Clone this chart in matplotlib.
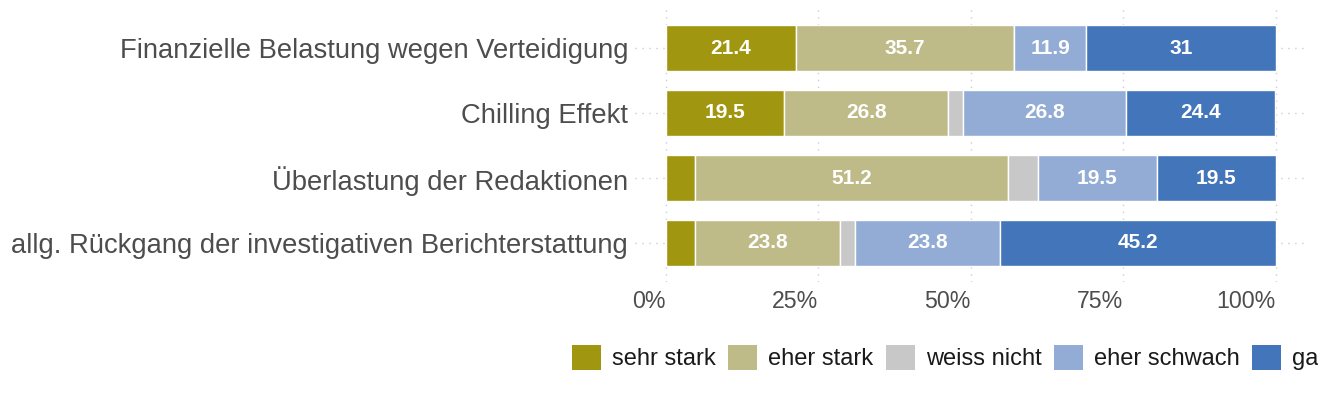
import matplotlib
matplotlib.use("Agg")
import matplotlib.pyplot as plt
from matplotlib.patches import Patch
import numpy as np

plt.rcParams['font.family'] = ['Liberation Sans', 'DejaVu Sans']

categories = [
    "Finanzielle Belastung wegen Verteidigung",
    "Chilling Effekt",
    "Überlastung der Redaktionen",
    "allg. Rückgang der investigativen Berichterstattung",
]
series_names = ["sehr stark", "eher stark", "weiss nicht", "eher schwach", "gar nicht"]
sehr_stark = [21.4, 19.5, 4.9, 4.8]
eher_stark = [35.7, 26.8, 51.2, 23.8]
weiss_nicht = [0.0, 2.4, 4.9, 2.4]
eher_schwach = [11.9, 26.8, 19.5, 23.8]
gar_nicht = [31.0, 24.4, 19.5, 45.2]
series_values = [sehr_stark, eher_stark, weiss_nicht, eher_schwach, gar_nicht]
colors = ["#A1960F", "#BFBB88", "#C8C8C8", "#93ACD5", "#4375BA"]
xticks = [0, 25, 50, 75, 100]
xtick_labels = ["0%", "25%", "50%", "75%", "100%"]

W, H = 1318, 396
fig = plt.figure(figsize=(W / 100, H / 100), dpi=100)
left, right, top, bottom = 635, 1306, 9, 282
ax = fig.add_axes([left / W, 1 - bottom / H, (right - left) / W, (bottom - top) / H])

y = np.arange(len(categories))
grid_kw = dict(color="#CFCBD6", linestyle=(0, (1, 4)), linewidth=1.0, zorder=0)
for xv in xticks:
    ax.axvline(xv, **grid_kw)
for yv in y:
    ax.axhline(yv, **grid_kw)

lefts = np.zeros(len(categories))
for name, vals, col in zip(series_names, series_values, colors):
    vals = np.array(vals)
    ax.barh(y, vals, left=lefts, height=0.71, color=col, edgecolor="white",
            linewidth=1.0, zorder=2, label=name)
    for yi, (l, v) in enumerate(zip(lefts, vals)):
        if v >= 10:
            ax.text(l + v / 2, yi, f"{v:g}", ha="center", va="center",
                    color="white", fontsize=15, fontweight="bold", zorder=3)
    lefts += vals

ax.set_xlim(-5, 105)
ax.set_ylim(len(categories) - 0.4, -0.6)
ax.set_yticks(y)
ax.set_yticklabels(categories, fontsize=19.7, color="#4D4D4D")
ax.set_xticks(xticks)
ax.set_xticklabels(xtick_labels, fontsize=16.7, color="#4D4D4D", ha="right")
ax.tick_params(axis="both", length=0)
ax.tick_params(axis="y", pad=5)
ax.tick_params(axis="x", pad=6)
for s in ax.spines.values():
    s.set_visible(False)
ax.set_facecolor("white")

handles = [Patch(facecolor=c, edgecolor="none", label=n) for n, c in zip(series_names, colors)]
fig.legend(handles=handles, loc="center left", bbox_to_anchor=(572 / W, 1 - 357.5 / H),
           ncol=5, frameon=False, fontsize=17, borderpad=0, borderaxespad=0,
           handlelength=1.22, handleheight=1.25, handletextpad=0.47, columnspacing=0.53,
           labelcolor="#1A1A1A")

fig.savefig("out.png", dpi=100)
